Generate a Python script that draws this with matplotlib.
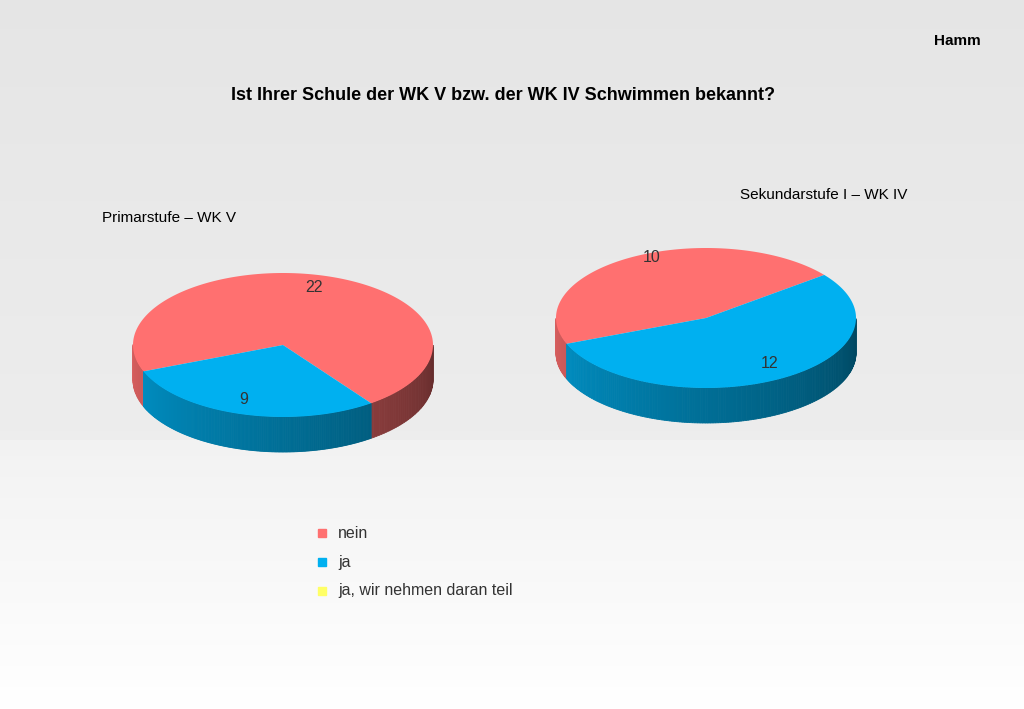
import matplotlib.pyplot as plt
import numpy as np
from matplotlib.colors import to_rgb

plt.rcParams["font.family"] = "Liberation Sans"

title = "Ist Ihrer Schule der WK V bzw. der WK IV Schwimmen bekannt?"
categories = ["nein", "ja", "ja, wir nehmen daran teil"]
colors = ["#ff7070", "#00b0f0", "#ffff66"]
primar = [22, 9, 0]
sekundar = [10, 12, 0]

fig = plt.figure(figsize=(10.24, 7.09), dpi=100)
ax = fig.add_axes([0, 0, 1, 1])
ax.set_xlim(0, 1024)
ax.set_ylim(709, 0)
ax.axis("off")

# background gradient
g = np.ones((709, 1))
g[:440, 0] = np.linspace(0.90, 0.93, 440)
g[440:, 0] = np.linspace(0.95, 1.0, 269)
ax.imshow(np.dstack([g, g, g]), extent=(0, 1024, 709, 0), aspect="auto", zorder=0)


def shade(c, f):
    return tuple(np.array(to_rgb(c)) * f)


def pie3d(cx, cy, rx, ry, depth, values, start, labels_pos):
    total = sum(values)
    t0 = start
    for v, c in zip(values, colors):
        if v == 0:
            continue
        t1 = t0 + v / total * 360
        # side wall strips
        ts = np.linspace(t0, t1, 200)
        for a, b in zip(ts[:-1], ts[1:]):
            m = (a + b) / 2 % 360
            if 180 <= m <= 360:
                f = 0.85 - 0.45 * (m - 180) / 180
                xa, xb = cx + rx * np.cos(np.radians([a, b]))
                ya, yb = cy - ry * np.sin(np.radians([a, b]))
                ax.fill([xa, xb, xb, xa], [ya, yb, yb + depth, ya + depth],
                        color=shade(c, f), lw=0.6, ec=shade(c, f), zorder=2)
        tt = np.radians(np.linspace(t0, t1, 200))
        xs = np.r_[cx, cx + rx * np.cos(tt)]
        ys = np.r_[cy, cy - ry * np.sin(tt)]
        ax.fill(xs, ys, color=c, lw=0, zorder=3)
        t0 = t1
    for (x, y), v in zip(labels_pos, values):
        if v:
            ax.text(x, y, str(v), ha="center", va="center", fontsize=11.5, color="#333333", zorder=4)


pie3d(283, 345, 150, 72, 35, primar, 306 - 360,
      [(314, 287), (244, 399)])
pie3d(706, 318, 150, 70, 35, sekundar, 38, [(652, 258), (770, 363)])

ax.text(957, 41, "Hamm", ha="center", va="center", fontsize=11, weight="bold")
ax.text(503, 95, title, ha="center", va="center", fontsize=13, weight="bold")
ax.text(102, 218, "Primarstufe – WK V", ha="left", va="center", fontsize=11)
ax.text(740, 195, "Sekundarstufe I – WK IV", ha="left", va="center", fontsize=11)

for i, (cat, c) in enumerate(zip(categories, colors)):
    y = 533 + i * 29
    ax.add_patch(plt.Rectangle((318, y - 4), 8, 8, color=c, zorder=3))
    ax.text(338, y, cat, ha="left", va="center", fontsize=11.5, color="#333333")

fig.savefig("out.png", dpi=100)
